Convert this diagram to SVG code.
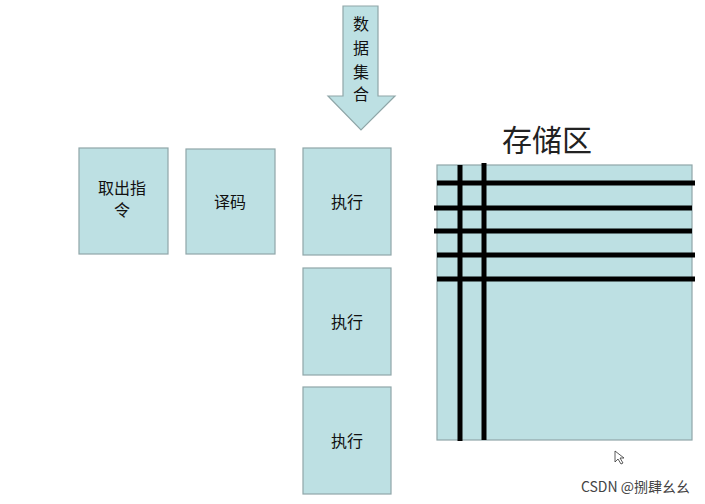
<svg xmlns="http://www.w3.org/2000/svg" width="705" height="504" viewBox="0 0 705 504">
<style>
.b{fill:#bde0e3;stroke:#8fa6a8;stroke-width:1.2}
.t{font-family:"Noto Sans CJK SC",sans-serif;font-size:16px;fill:#111;text-anchor:middle}
.l{stroke:#000;stroke-width:5}
</style>
<rect width="705" height="504" fill="#fff"/>
<g id="arrow"><path class="b" d="M343,6 H378 V96 H395 L361,130 L328,96 H343 Z"/>
<text class="t" x="361" y="30">数</text><text class="t" x="361" y="54">据</text><text class="t" x="361" y="78">集</text><text class="t" x="361" y="100">合</text></g>
<g id="fetch"><rect class="b" x="79" y="148" width="89" height="106"/><text class="t" x="122" y="194">取出指</text><text class="t" x="122" y="216">令</text></g>
<g id="decode"><rect class="b" x="186" y="149" width="89" height="105"/><text class="t" x="230" y="208">译码</text></g>
<g id="exec1"><rect class="b" x="303" y="148" width="88" height="107"/><text class="t" x="347" y="208">执行</text></g>
<g id="exec2"><rect class="b" x="303" y="268" width="88" height="107"/><text class="t" x="347" y="328">执行</text></g>
<g id="exec3"><rect class="b" x="303" y="387" width="88" height="107"/><text class="t" x="347" y="447">执行</text></g>
<g id="storage"><text x="547" y="151" style="font-family:'Noto Sans CJK SC',sans-serif;font-size:30px;fill:#222;text-anchor:middle">存储区</text>
<rect class="b" x="437" y="165" width="255" height="275"/></g>
<g id="connectors">
<line class="l" x1="437" y1="183" x2="695" y2="183"/>
<line class="l" x1="434" y1="208" x2="692" y2="208"/>
<line class="l" x1="434" y1="231" x2="692" y2="231"/>
<line class="l" x1="437" y1="255" x2="695" y2="255"/>
<line class="l" x1="437" y1="279" x2="695" y2="279"/>
<line class="l" x1="460" y1="165" x2="460" y2="441"/>
<line class="l" x1="484" y1="163" x2="484" y2="440"/>
</g>
<text x="690" y="492" style="font-family:'Noto Sans CJK SC',sans-serif;font-size:14px;fill:#444;text-anchor:end">CSDN @捌肆幺幺</text>
<path d="M615,451 v11 l3,-3 l3,5 l2,-1 l-3,-5 h4 z" fill="#fff" stroke="#333" stroke-width="0.8"/>
</svg>
